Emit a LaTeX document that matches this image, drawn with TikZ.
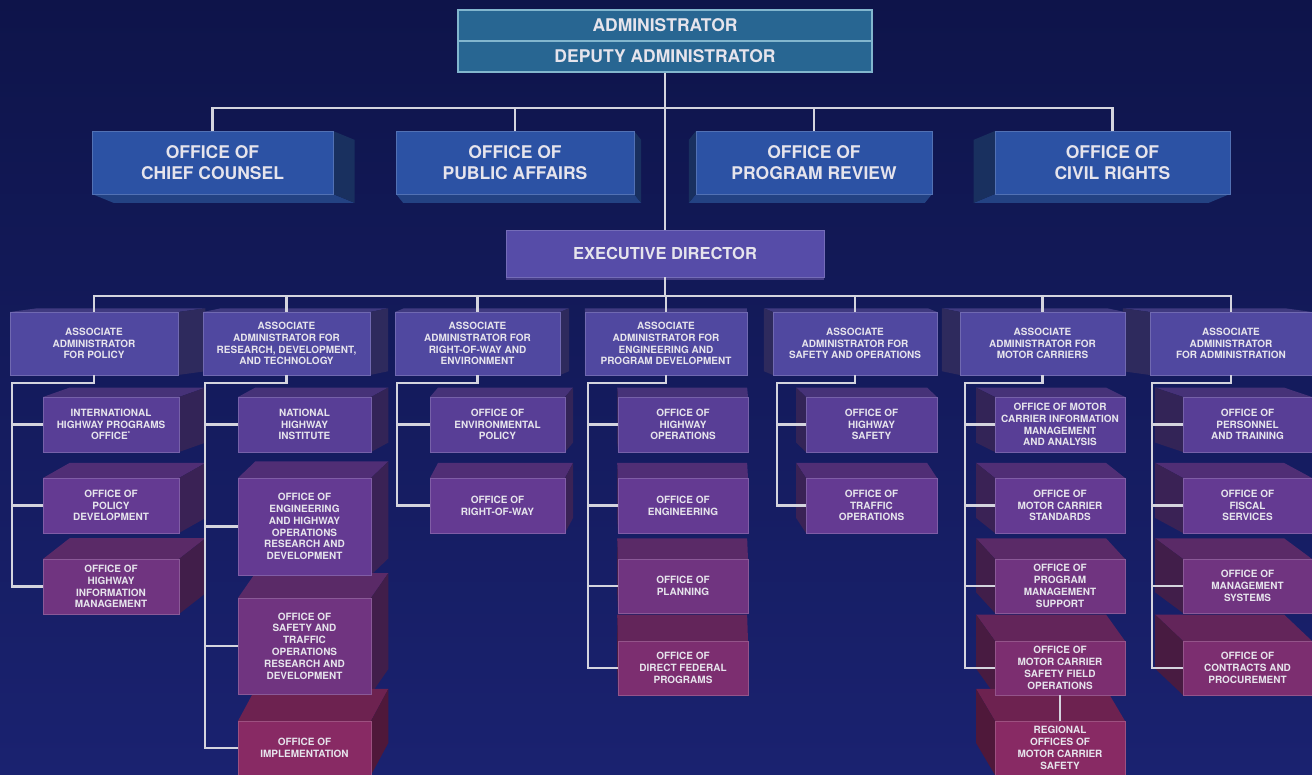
\documentclass[tikz,border=0pt]{standalone}
\usepackage{fontspec}
\setmainfont{TeX Gyre Heros}
\usetikzlibrary{calc}
\pgfdeclarelayer{bg}
\pgfdeclarelayer{ext}
\pgfsetlayers{bg,ext,main}

\definecolor{bgtop}{RGB}{14,20,74}
\definecolor{bgbot}{RGB}{26,34,112}
\definecolor{linec}{RGB}{212,212,222}
\definecolor{txt}{RGB}{230,228,236}
\definecolor{adminfill}{RGB}{40,102,146}
\definecolor{adminedge}{RGB}{130,182,206}
\definecolor{staff}{RGB}{44,82,164}
\definecolor{execc}{RGB}{86,76,168}
\definecolor{assoc}{RGB}{80,72,160}
\definecolor{subA}{RGB}{88,62,150}
\definecolor{subB}{RGB}{100,58,146}
\definecolor{subC}{RGB}{112,52,128}
\definecolor{subD}{RGB}{124,46,112}
\definecolor{subE}{RGB}{136,42,100}

\tikzset{
  orgnode/.style={rectangle, inner sep=1pt, align=center, text=txt,
    font=\bfseries\fontsize{10}{11.8}\selectfont},
  bigtext/.style={font=\bfseries\fontsize{17.5}{21}\selectfont},
  conn/.style={draw=linec, line width=2.2pt, line join=miter},
}

% \orgbox[style]{name}{x1}{y1}{x2}{y2}{fill}{text}
% front face of a block plus its receding faces toward a common vanishing point
\newcommand\orgbox[8][]{%
  \pgfmathsetmacro\obw{#5-#3}%
  \pgfmathsetmacro\obh{#6-#4}%
  \pgfmathsetmacro\obx{(#3+#5)/2}%
  \pgfmathsetmacro\oby{(#4+#6)/2}%
  \pgfmathsetmacro\obdx{0.048*(665-\obx)}%
  \pgfmathsetmacro\obdy{0.07*(290-\oby)}%
  \node[orgnode, fill=#7, draw=#7!82!white, line width=0.6pt,
        minimum width=\obw pt, minimum height=\obh pt, #1] (#2) at (\obx,\oby) {#8};
  \begin{pgfonlayer}{ext}
    \ifdim\obdy pt<0pt
      \fill[#7!80!black] (#3,#4) -- (#5,#4) -- ++(\obdx,\obdy) -- ++(-\obw,0) -- cycle;
    \else
      \fill[#7!80!black] (#3,#6) -- (#5,#6) -- ++(\obdx,\obdy) -- ++(-\obw,0) -- cycle;
    \fi
    \ifdim\obdx pt<0pt
      \fill[#7!58!black] (#3,#4) -- (#3,#6) -- ++(\obdx,\obdy) -- ++(0,-\obh) -- cycle;
    \else
      \fill[#7!58!black] (#5,#4) -- (#5,#6) -- ++(\obdx,\obdy) -- ++(0,-\obh) -- cycle;
    \fi
  \end{pgfonlayer}%
}

\begin{document}
\begin{tikzpicture}[x=1pt,y=-1pt]
\useasboundingbox (0,0) rectangle (1312,775);
\begin{pgfonlayer}{bg}
  \shade[top color=bgtop, bottom color=bgbot] (0,0) rectangle (1312,775);
\end{pgfonlayer}

% head of the agency
\node[orgnode, bigtext, fill=adminfill, draw=adminedge, line width=1.4pt,
      minimum width=414pt, minimum height=31pt] (admin) at (665,25.5) {ADMINISTRATOR};
\node[orgnode, bigtext, fill=adminfill, draw=adminedge, line width=1.4pt,
      minimum width=414pt, minimum height=31pt] (deputy) at (665,56.5) {DEPUTY ADMINISTRATOR};

% staff offices
\orgbox[bigtext]{chief}{92}{131}{333}{194}{staff}{OFFICE OF\\CHIEF COUNSEL}
\orgbox[bigtext]{public}{396}{131}{634}{194}{staff}{OFFICE OF\\PUBLIC AFFAIRS}
\orgbox[bigtext]{review}{696}{131}{932}{194}{staff}{OFFICE OF\\PROGRAM REVIEW}
\orgbox[bigtext]{civil}{995}{131}{1230}{194}{staff}{OFFICE OF\\CIVIL RIGHTS}

\orgbox[font=\bfseries\fontsize{16.5}{20}\selectfont]{exec}{506}{230}{824}{277}{execc}{EXECUTIVE DIRECTOR}

% associate administrators
\orgbox{a1}{10}{312}{178}{375}{assoc}{ASSOCIATE\\ADMINISTRATOR\\FOR POLICY}
\orgbox{a2}{203}{312}{370}{375}{assoc}{ASSOCIATE\\ADMINISTRATOR FOR\\RESEARCH, DEVELOPMENT,\\AND TECHNOLOGY}
\orgbox{a3}{395}{312}{560}{375}{assoc}{ASSOCIATE\\ADMINISTRATOR FOR\\RIGHT-OF-WAY AND\\ENVIRONMENT}
\orgbox{a4}{585}{312}{747}{375}{assoc}{ASSOCIATE\\ADMINISTRATOR FOR\\ENGINEERING AND\\PROGRAM DEVELOPMENT}
\orgbox{a5}{773}{312}{937}{375}{assoc}{ASSOCIATE\\ADMINISTRATOR FOR\\SAFETY AND OPERATIONS}
\orgbox{a6}{960}{312}{1125}{375}{assoc}{ASSOCIATE\\ADMINISTRATOR FOR\\MOTOR CARRIERS}
\orgbox{a7}{1150}{312}{1312}{375}{assoc}{ASSOCIATE\\ADMINISTRATOR\\FOR ADMINISTRATION}

% policy
\orgbox{c11}{43}{397}{179}{452}{subA}{INTERNATIONAL\\HIGHWAY PROGRAMS\\OFFICE\textsuperscript{*}}
\orgbox{c12}{43}{478}{179}{533}{subB}{OFFICE OF\\POLICY\\DEVELOPMENT}
\orgbox{c13}{43}{559}{179}{614}{subC}{OFFICE OF\\HIGHWAY\\INFORMATION\\MANAGEMENT}

% research, development and technology
\orgbox{c21}{238}{397}{371}{452}{subA}{NATIONAL\\HIGHWAY\\INSTITUTE}
\orgbox{c22}{238}{478}{371}{575}{subB}{OFFICE OF\\ENGINEERING\\AND HIGHWAY\\OPERATIONS\\RESEARCH AND\\DEVELOPMENT}
\orgbox{c23}{238}{598}{371}{694}{subC}{OFFICE OF\\SAFETY AND\\TRAFFIC\\OPERATIONS\\RESEARCH AND\\DEVELOPMENT}
\orgbox{c24}{238}{721}{371}{775}{subE}{OFFICE OF\\IMPLEMENTATION}

% right-of-way and environment
\orgbox{c31}{430}{397}{565}{452}{subA}{OFFICE OF\\ENVIRONMENTAL\\POLICY}
\orgbox{c32}{430}{478}{565}{533}{subB}{OFFICE OF\\RIGHT-OF-WAY}

% engineering and program development
\orgbox{c41}{618}{397}{748}{452}{subA}{OFFICE OF\\HIGHWAY\\OPERATIONS}
\orgbox{c42}{618}{478}{748}{533}{subB}{OFFICE OF\\ENGINEERING}
\orgbox{c43}{618}{559}{748}{613}{subC}{OFFICE OF\\PLANNING}
\orgbox{c44}{618}{641}{748}{695}{subD}{OFFICE OF\\DIRECT FEDERAL\\PROGRAMS}

% safety and operations
\orgbox{c51}{806}{397}{937}{452}{subA}{OFFICE OF\\HIGHWAY\\SAFETY}
\orgbox{c52}{806}{478}{937}{533}{subB}{OFFICE OF\\TRAFFIC\\OPERATIONS}

% motor carriers
\orgbox{c61}{995}{397}{1125}{452}{subA}{OFFICE OF MOTOR\\CARRIER INFORMATION\\MANAGEMENT\\AND ANALYSIS}
\orgbox{c62}{995}{478}{1125}{533}{subB}{OFFICE OF\\MOTOR CARRIER\\STANDARDS}
\orgbox{c63}{995}{559}{1125}{613}{subC}{OFFICE OF\\PROGRAM\\MANAGEMENT\\SUPPORT}
\orgbox{c64}{995}{641}{1125}{695}{subD}{OFFICE OF\\MOTOR CARRIER\\SAFETY FIELD\\OPERATIONS}
\orgbox{c65}{995}{721}{1125}{775}{subE}{REGIONAL\\OFFICES OF\\MOTOR CARRIER\\SAFETY}

% administration
\orgbox{c71}{1183}{397}{1312}{452}{subA}{OFFICE OF\\PERSONNEL\\AND TRAINING}
\orgbox{c72}{1183}{478}{1312}{533}{subB}{OFFICE OF\\FISCAL\\SERVICES}
\orgbox{c73}{1183}{559}{1312}{613}{subC}{OFFICE OF\\MANAGEMENT\\SYSTEMS}
\orgbox{c74}{1183}{641}{1312}{695}{subD}{OFFICE OF\\CONTRACTS AND\\PROCUREMENT}

% ---- connectors ----
\draw[conn] (deputy.south) -- (exec.north);
\coordinate (tbar) at (665,108);
\draw[conn] (chief.north) |- (tbar) -| (civil.north);
\draw[conn] (public.north) -- (public.north |- tbar);
\draw[conn] (review.north) -- (review.north |- tbar);

\coordinate (abar) at (665,296);
\draw[conn] (exec.south) -- (abar);
\draw[conn] (a1.north) |- (abar) -| (a7.north);
\foreach \n in {a2,a3,a4,a5,a6}
  \draw[conn] (\n.north) -- (\n.north |- abar);

% spines of the divisions
\coordinate (k1) at (12,383);
\coordinate (k2) at (205,383);
\coordinate (k3) at (397,383);
\coordinate (k4) at (588,383);
\coordinate (k5) at (777,383);
\coordinate (k6) at (965,383);
\coordinate (k7) at (1152,383);

\draw[conn] (a1.south) |- (k1) |- (c13.west);
\foreach \c in {c11,c12} \draw[conn] (k1 |- \c.west) -- (\c.west);

\draw[conn] (a2.south) |- (k2) |- (c24.west);
\foreach \c in {c21,c22,c23} \draw[conn] (k2 |- \c.west) -- (\c.west);

\draw[conn] (a3.south) |- (k3) |- (c32.west);
\draw[conn] (k3 |- c31.west) -- (c31.west);

\draw[conn] (a4.south) |- (k4) |- (c44.west);
\foreach \c in {c41,c42,c43} \draw[conn] (k4 |- \c.west) -- (\c.west);

\draw[conn] (a5.south) |- (k5) |- (c52.west);
\draw[conn] (k5 |- c51.west) -- (c51.west);

\draw[conn] (a6.south) |- (k6) |- (c64.west);
\foreach \c in {c61,c62,c63} \draw[conn] (k6 |- \c.west) -- (\c.west);
\draw[conn] (c64.south) -- (c65.north);

\draw[conn] (a7.south) |- (k7) |- (c74.west);
\foreach \c in {c71,c72,c73} \draw[conn] (k7 |- \c.west) -- (\c.west);
\end{tikzpicture}
\end{document}
